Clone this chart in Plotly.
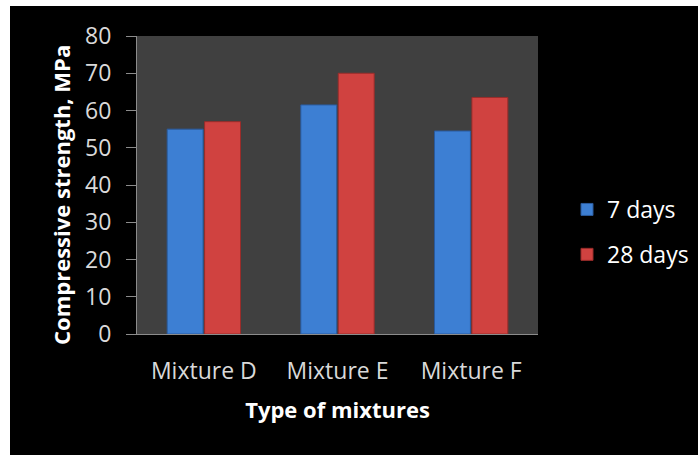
import plotly.graph_objects as go

categories = ["Mixture D", "Mixture E", "Mixture F"]
days7 = [55, 61.5, 54.5]
days28 = [57, 70, 63.5]
series_names = ["7 days", "28 days"]
yticks = [0, 10, 20, 30, 40, 50, 60, 70, 80]

W, H = 698, 455
L, R, T, B = 137, 160, 36, 121
pw, ph = W - L - R, H - T - B

def px_x(x):
    return (x - L) / pw

def px_y(y):
    return (H - B - y) / ph

fig = go.Figure()
fig.add_trace(go.Bar(x=categories, y=days7, name=series_names[0], legendgroup="a",
                     marker=dict(color="#3d7fd3", line=dict(color="#2a5a9c", width=1))))
fig.add_trace(go.Bar(x=categories, y=days28, name=series_names[1], legendgroup="b",
                     marker=dict(color="#d04240", line=dict(color="#9a2c2a", width=1))))

font_family = "'Open Sans', sans-serif"

fig.update_layout(
    width=W, height=H,
    margin=dict(l=L, r=R, t=T, b=B, autoexpand=False),
    paper_bgcolor="#000000",
    plot_bgcolor="#404040",
    barmode="group",
    bargap=0.44,
    bargroupgap=0.04,
    font=dict(family=font_family, color="#d9d9d9", size=23),
    showlegend=True,
    legend=dict(x=px_x(567), y=px_y(232), xanchor="left", yanchor="middle",
                font=dict(size=23, color="#ffffff"), bgcolor="rgba(0,0,0,0)",
                traceorder="grouped", tracegroupgap=12, itemwidth=30),
    xaxis=dict(
        showgrid=False, showline=True, linecolor="#8c8c8c", linewidth=1,
        ticks="", tickfont=dict(size=23, color="#d9d9d9"),
        ticklabelstandoff=16,
        title=dict(text="<b>Type of mixtures</b>", font=dict(size=22, color="#ffffff"), standoff=18),
    ),
    yaxis=dict(
        range=[0, 80], tickvals=yticks, showgrid=False, zeroline=False,
        showline=True, linecolor="#8c8c8c", linewidth=1,
        ticks="outside", ticklen=10, tickcolor="#8c8c8c",
        tickfont=dict(size=23, color="#d9d9d9"),
        ticklabelstandoff=10,
    ),
    annotations=[
        dict(text="<b>Compressive strength, MPa</b>", textangle=-90, showarrow=False,
             xref="paper", yref="paper", x=px_x(61), y=px_y(195),
             xanchor="center", yanchor="middle",
             font=dict(size=22, color="#ffffff", family=font_family)),
    ],
    shapes=[
        dict(type="rect", xref="paper", yref="paper", x0=px_x(0), x1=px_x(10), y0=px_y(H), y1=px_y(0),
             fillcolor="#ffffff", line=dict(width=0), layer="above"),
        dict(type="rect", xref="paper", yref="paper", x0=px_x(0), x1=px_x(W), y0=px_y(6), y1=px_y(0),
             fillcolor="#ffffff", line=dict(width=0), layer="above"),
    ],
)

fig.write_html("out.html")
